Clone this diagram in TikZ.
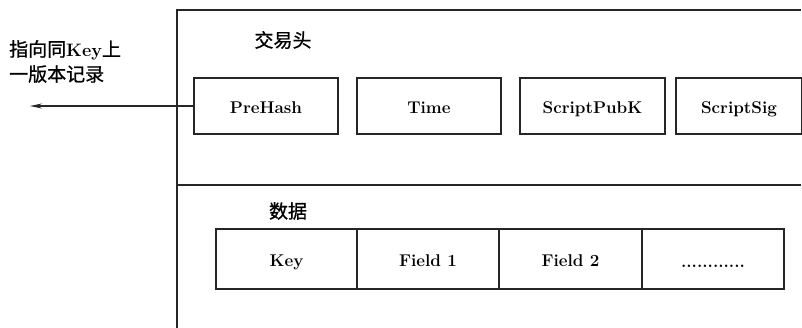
\documentclass[tikz,border=0pt]{standalone}
\usepackage{fontspec}
\newfontfamily\cjk{Noto Sans CJK SC}[FakeBold=0.8]
\usetikzlibrary{arrows.meta}
\newcommand\latbf[1]{{\rmfamily\fontseries{bx}\fontsize{18}{24}\selectfont #1}}
\begin{document}
\begin{tikzpicture}[x=1pt,y=-1pt,
  line/.style={draw=black!85,line width=1.3pt},
  cell/.style={line,anchor=north west,inner sep=0pt,outer sep=0pt,
     text height=15pt,text depth=0pt,
     font=\fontsize{17}{20}\selectfont\bfseries},
  cjklab/.style={font=\cjk\fontsize{19}{24}\selectfont,inner sep=0pt,align=left}]
\useasboundingbox (0,0) rectangle (802,328);
% outer frame
\draw[line] (801,10) -- (177,10) -- (177,328);
\draw[line] (177,185) -- (801,185);
% header
\node[cjklab] (hdr) at (283,40) {交易头};
\node[cell,minimum width=144pt,minimum height=56pt] (pre) at (194,78) {PreHash};
\node[cell,minimum width=144pt,minimum height=56pt] (time) at (357,78) {Time};
\node[cell,minimum width=145pt,minimum height=56pt] (spk) at (520,78) {ScriptPubK};
\node[cell,minimum width=126pt,minimum height=56pt] (ssig) at (676,78) {ScriptSig};
% pointer
\coordinate (tip) at (30,106);
\draw[line,-{Stealth[length=12pt,width=5pt]}] (pre.west) -- (tip);
\node[cjklab,anchor=north west] (note) at (9,40) {指向同\latbf{Key}上\\[1pt]一版本记录};
% data
\node[cjklab] (data) at (288,211) {数据};
\node[cell,minimum width=141pt,minimum height=60pt] (key) at (216,229) {Key};
\node[cell,minimum width=142pt,minimum height=60pt] (f1) at (357,229) {Field 1};
\node[cell,minimum width=143pt,minimum height=60pt] (f2) at (499,229) {Field 2};
\node[cell,minimum width=142pt,minimum height=60pt] (dots) at (642,229) {\raisebox{-1pt}{............}};
\end{tikzpicture}
\end{document}
